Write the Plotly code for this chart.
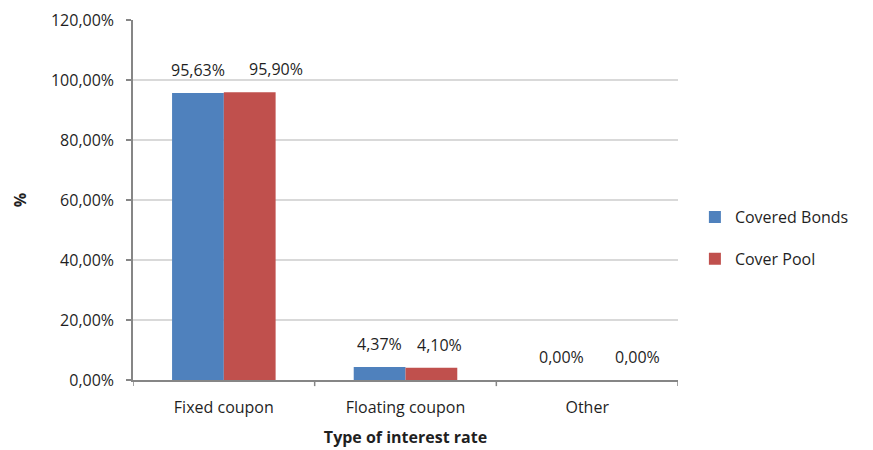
import plotly.graph_objects as go

# Interest-rate type breakdown (percent of total)
categories = ["Fixed coupon", "Floating coupon", "Other"]
covered_bonds = [95.63, 4.37, 0.00]
cover_pool = [95.90, 4.10, 0.00]
series_names = ["Covered Bonds", "Cover Pool"]
y_ticks = [0, 20, 40, 60, 80, 100, 120]
y_tick_labels = ["0,00%", "20,00%", "40,00%", "60,00%", "80,00%", "100,00%", "120,00%"]

colors = ["#4F81BD", "#C0504D"]
font_family = "Open Sans, Noto Sans, DejaVu Sans, sans-serif"
text_color = "#1f1f1f"

def pct(v):
    return f"{v:.2f}".replace(".", ",") + "%"

bar_gap = 0.43
x_pos = list(range(len(categories)))

fig = go.Figure()
for i, (name, vals) in enumerate(zip(series_names, [covered_bonds, cover_pool])):
    fig.add_trace(go.Bar(
        x=x_pos, y=vals, name=name,
        marker=dict(color=colors[i], line=dict(width=0)),
        legendgroup=name,
        hoverinfo="skip",
    ))

# value labels above each bar (Excel-style, a little above the bar top)
half = (1 - bar_gap) / 4  # centre offset of each bar inside its category
label_nudge = [[0, 0, 0], [26, 8, 24]]  # horizontal placement tweaks in px
annotations = []
for s, vals in enumerate([covered_bonds, cover_pool]):
    sign = -1 if s == 0 else 1
    for i, v in enumerate(vals):
        annotations.append(dict(
            x=x_pos[i] + sign * half, y=v, xref="x", yref="y",
            text=pct(v), showarrow=False, yanchor="middle",
            yshift=23, xshift=label_nudge[s][i],
            font=dict(size=16, color=text_color, family=font_family),
        ))

fig.update_layout(
    width=873, height=450,
    margin=dict(l=133, r=195, t=20, b=70),
    paper_bgcolor="white", plot_bgcolor="white",
    barmode="group", bargap=bar_gap, bargroupgap=0,
    font=dict(family=font_family, size=16, color=text_color),
    showlegend=True,
    legend=dict(
        x=1.031, y=0.394, xanchor="left", yanchor="middle",
        traceorder="grouped", tracegroupgap=18,
        font=dict(size=16, color=text_color),
        itemwidth=30,
    ),
    annotations=annotations,
)

fig.update_xaxes(
    tickmode="array", tickvals=x_pos, ticktext=categories,
    range=[-0.5, len(categories) - 0.5],
    showline=True, linecolor="#868686", linewidth=1.5,
    ticks="", showgrid=False, zeroline=False, automargin=False,
    tickfont=dict(size=16), ticklabelstandoff=12,
    title=dict(text="<b>Type of interest rate</b>", font=dict(size=16), standoff=15),
)
# category boundary tick marks
for b in [x - 0.5 for x in x_pos] + [x_pos[-1] + 0.5]:
    fig.add_shape(type="line", xref="x", yref="paper", x0=b, x1=b, y0=0, y1=-0.017,
                  line=dict(color="#868686", width=1.5))

fig.update_yaxes(
    range=[0, 120], tickmode="array", tickvals=y_ticks, ticktext=y_tick_labels,
    showline=True, linecolor="#868686", linewidth=1.5,
    ticks="outside", ticklen=5, tickcolor="#868686", tickwidth=1.5,
    showgrid=True, gridcolor="#D9D9D9", gridwidth=1.5, zeroline=False,
    automargin=False,
    tickfont=dict(size=16), ticklabelstandoff=9,
    title=dict(text="<b>%</b>", font=dict(size=16), standoff=20),
)

fig.write_html("out.html")
